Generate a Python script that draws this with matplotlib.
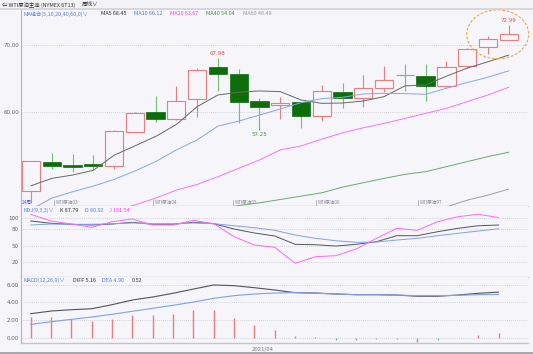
import matplotlib
matplotlib.use('Agg')
import matplotlib.pyplot as plt
from matplotlib.patches import Rectangle, Ellipse
from matplotlib.lines import Line2D
import numpy as np

nan = np.nan
CJK = ['Noto Sans CJK SC', 'DejaVu Sans']

# WTI原油主连 周线, 24 weeks
opens  = [48.2, 52.5, 52.0, 52.15, 51.9, 57.0, 60.0, 58.85, 61.95, 66.7, 65.6, 61.65,
          60.95, 61.45, 59.3, 62.9, 62.1, 63.6, 65.55, 65.4, 63.9, 66.75, 69.65, 70.7]
closes = [52.6, 51.9, 51.75, 51.85, 57.1, 59.75, 58.95, 61.6, 66.3, 65.6, 61.5, 60.7,
          61.35, 59.3, 63.1, 62.0, 63.5, 64.8, 65.45, 63.9, 66.7, 69.4, 70.8, 71.65]
highs  = [52.7, 53.9, 53.7, 53.5, 57.3, 59.9, 62.35, 63.9, 66.5, 67.98, 66.4, 62.0,
          62.25, 61.5, 64.0, 64.3, 65.5, 66.8, 67.1, 67.1, 67.55, 69.5, 71.35, 72.99]
lows   = [46.4, 51.4, 51.0, 51.4, 51.5, 56.95, 58.5, 58.7, 59.2, 63.1, 58.3, 57.25,
          58.85, 57.6, 58.65, 60.55, 60.65, 62.9, 63.1, 61.6, 63.6, 66.5, 68.6, 70.65]

ma5  = [48.95, 50.05, 50.55, 51.25, 53.5, 54.9, 56.3, 58.1, 60.75, 62.5, 62.9, 63.1,
        63.0, 61.75, 61.25, 61.3, 61.6, 62.25, 63.85, 64.0, 65.3, 66.5, 67.45, 68.45]
ma10 = [45.4, 47.1, 48.05, 48.9, 49.9, 51.15, 52.55, 54.3, 55.8, 57.85, 58.6, 59.5,
        60.4, 61.35, 61.95, 62.15, 62.65, 62.75, 62.7, 62.6, 63.5, 64.35, 65.15, 66.1]
ma20 = [nan, nan, nan, nan, 45.0, 46.1, 47.1, 48.3, 49.15, 50.3, 51.55, 52.8,
        54.3, 54.9, 55.9, 56.85, 57.6, 58.25, 59.0, 59.75, 60.5, 61.5, 62.5, 63.65]
ma40 = [nan, nan, nan, nan, nan, nan, nan, nan, nan, 45.5, 46.0, 46.4,
        46.9, 47.4, 47.9, 48.75, 49.4, 50.05, 50.65, 51.05, 51.8, 52.55, 53.3, 53.95]
ma60 = [nan] * 20 + [45.8, 46.8, 47.55, 48.45]

k_line = [95.1, 90.9, 89.1, 87.8, 89.6, 92.7, 89.1, 89.1, 92.7, 90.2, 80.5, 73.3,
          67.8, 52.7, 52.0, 49.6, 52.7, 57.5, 68.4, 68.4, 75.6, 81.8, 86.5, 87.79]
d_line = [87.8, 89.6, 89.1, 89.1, 90.2, 91.5, 90.2, 90.2, 91.5, 90.2, 86.5, 82.9,
          78.2, 69.6, 63.6, 59.3, 56.3, 56.9, 60.5, 63.6, 68.4, 72.7, 76.9, 80.92]
j_line = [107.3, 95.1, 89.6, 83.6, 93.8, 98.7, 87.8, 87.8, 96.4, 90.2, 66.5, 51.5,
          47.3, 18.2, 30.2, 32.0, 44.2, 63.6, 81.8, 78.2, 93.8, 102.9, 107.3, 101.54]

diff = [2.72, 3.02, 3.17, 3.28, 3.74, 4.27, 4.61, 5.03, 5.51, 5.97, 5.89, 5.66,
        5.40, 5.10, 5.06, 4.95, 4.87, 4.87, 4.83, 4.69, 4.69, 4.83, 5.03, 5.16]
dea  = [1.51, 1.81, 2.08, 2.34, 2.65, 2.99, 3.33, 3.67, 4.04, 4.46, 4.76, 4.95,
        5.06, 5.10, 5.03, 4.95, 4.87, 4.87, 4.83, 4.76, 4.76, 4.80, 4.87, 4.90]
hist = [2.31, 2.31, 2.12, 1.89, 2.15, 2.60, 2.57, 2.72, 3.10, 3.10, 2.27, 1.47,
        0.84, 0.16, 0.08, -0.23, -0.22, -0.20, -0.20, -0.45, -0.25, 0.02, 0.31, 0.52]

contract_labels = ['WTI原油03', 'WTI原油04', 'WTI原油05', 'WTI原油06', 'WTI原油07']
contract_pos = [1.1, 5.87, 9.72, 13.7, 18.62]

BG = '#f5f5fa'
RED = '#f07b7b'
GREEN = '#0b6e0b'
GREEN_WICK = '#72bf72'
GRID = '#c6c6ce'

n = len(closes)
x = np.arange(n)

fig = plt.figure(figsize=(5.33, 3.54), dpi=100)
fig.patch.set_facecolor(BG)


def fx(px):
    return px / 533


def fy(py):
    return 1 - py / 354


def panel(top, bottom):
    ax = fig.add_axes([fx(21), fy(bottom), fx(528) - fx(21), fy(top) - fy(bottom)])
    ax.set_facecolor(BG)
    for s in ['top', 'right']:
        ax.spines[s].set_visible(False)
    ax.spines['left'].set_color('#b4b4bc')
    ax.spines['left'].set_linewidth(0.8)
    ax.spines['bottom'].set_color('#c4c4cc')
    ax.spines['bottom'].set_linewidth(1.0)
    ax.yaxis.grid(True, linestyle=(0, (1, 1.5)), color=GRID, lw=0.6)
    ax.set_axisbelow(True)
    ax.tick_params(length=0, pad=1.5, labelsize=4.0, labelcolor='#666666')
    ax.set_xticks([])
    return ax


# header bar
fig.add_artist(Rectangle((0, fy(8.5)), 1, 1 - fy(8.5), transform=fig.transFigure,
                         facecolor='#f3f3f6', edgecolor='none'))
fig.add_artist(Line2D([0, 1], [fy(8.8), fy(8.8)], transform=fig.transFigure,
                      color='#d2d2d8', lw=1.2))
fig.text(fx(2), fy(4.6), '⇐ WTI原油主连 (NYMEX 6T13)', family=CJK, fontsize=3.9,
         color='#333333', va='center')
fig.text(fx(82), fy(4.6), '周线∨', family=CJK, fontsize=4.0, color='#333333', va='center')

# ---- main candle panel
ax = panel(10, 206)
ax.set_xlim(-0.48, 23.93)
ax.set_ylim(45.93, 75.18)
ax.set_yticks([60, 70])
ax.set_yticklabels(['60.00', '70.00'])

w = 0.88
for i in range(n):
    o, c, h, l = opens[i], closes[i], highs[i], lows[i]
    lo, hi = min(o, c), max(o, c)
    if c >= o:
        ax.vlines(i, l, lo, color=RED, lw=0.8, zorder=2)
        ax.vlines(i, hi, h, color=RED, lw=0.8, zorder=2)
        ax.add_patch(Rectangle((i - w / 2, lo), w, hi - lo, facecolor=BG,
                               edgecolor=RED, lw=0.8, zorder=3))
    else:
        ax.vlines(i, l, h, color=GREEN_WICK, lw=0.8, zorder=2)
        if hi - lo < 0.15:
            ax.hlines(o, i - w / 2, i + w / 2, color=GREEN_WICK, lw=0.8, zorder=3)
        else:
            ax.add_patch(Rectangle((i - w / 2, lo), w, hi - lo, facecolor=GREEN,
                                   edgecolor=GREEN, lw=0.5, zorder=3))

ax.plot(x, ma5, color='#686868', lw=0.7, zorder=4)
ax.plot(x, ma10, color='#86a6f0', lw=0.7, zorder=4)
ax.plot(x, ma20, color='#ff70ff', lw=0.7, zorder=4)
ax.plot(x, ma40, color='#68ac68', lw=0.7, zorder=4)
ax.plot(x, ma60, color='#a0a0a0', lw=0.7, zorder=4)

# high / low markers
ax.text(9, highs[9] + 0.3, '67.98', color='#e84848', fontsize=4.0, ha='center', va='bottom')
ax.text(23, highs[23] + 0.25, '72.99', color='#e84848', fontsize=4.0, ha='center', va='bottom')
ax.text(11, lows[11] - 0.3, '57.25', color='#3d9a3d', fontsize=4.0, ha='center', va='top')

# highlight of the last two weeks
ax.add_patch(Ellipse((22.47, 71.55), 2.98, 7.3, facecolor='none', edgecolor='#f5a53c',
                     lw=0.8, linestyle=(0, (2.5, 1.5)), clip_on=False, zorder=5))

# contract roll labels
tr = ax.get_xaxis_transform()
for lab, pos in zip(contract_labels, contract_pos):
    ax.plot([pos, pos], [0.0, 0.03], color='#9a9aa2', lw=0.5, transform=tr)
    ax.text(pos + 0.1, 0.006, lab, transform=tr, family=CJK, fontsize=3.3,
            color='#8a8a92', va='bottom', ha='left')
ax.text(0.002, 0.004, '24周', transform=ax.transAxes, family=CJK, fontsize=3.4,
        color='#4a62c8', va='bottom', ha='left')

# MA legend
leg = [(24, 'MA组合(5,10,20,40,60,0)∨', '#5b7fe0'), (101, 'MA5 68.45', '#333333'),
       (134, 'MA10 66.12', '#5b7fe0'), (170, 'MA20 63.67', '#ff40ff'),
       (206, 'MA40 54.04', '#3a953a'), (243, 'MA60 48.48', '#999999')]
for px, txt, col in leg:
    fig.text(fx(px), fy(13.8), txt, family=CJK, fontsize=3.9, color=col, va='center')

# ---- KDJ panel
axk = panel(206, 276.5)
axk.set_xlim(-0.48, 24.45)
axk.set_ylim(-5.8, 122.4)
axk.set_yticks([20, 50, 80, 100])
axk.set_yticklabels(['20', '50', '80', '100'])
axk.plot(x, k_line, color='#555555', lw=0.7)
axk.plot(x, d_line, color='#80a0f0', lw=0.7)
axk.plot(x, j_line, color='#ff66ff', lw=0.7)
for px, txt, col in [(23, 'KDJ(9,3,3)∨', '#5b7fe0'), (60, 'K 87.79', '#333333'),
                     (85, 'D 80.92', '#5b7fe0'), (109, 'J 101.54', '#ff40ff')]:
    fig.text(fx(px), fy(210), txt, family=CJK, fontsize=3.9, color=col, va='center')

# ---- MACD panel
axm = panel(276.5, 343)
axm.set_xlim(-0.48, 24.45)
axm.set_ylim(-0.6, 6.93)
axm.set_yticks([0, 2, 4, 6])
axm.set_yticklabels(['0.00', '2.00', '4.00', '6.00'])
bar_cols = [RED if h > 0 else GREEN_WICK for h in hist]
axm.vlines(x, 0, hist, colors=bar_cols, lw=1.0)
axm.plot(x, diff, color='#555555', lw=0.8)
axm.plot(x, dea, color='#80a0f0', lw=0.8)
axm.set_xticks([11.42])
axm.set_xticklabels(['2021/04'])
axm.tick_params(axis='x', pad=2.5, labelsize=3.8, labelcolor='#777777')
for px, txt, col in [(23, 'MACD(12,26,9)∨', '#5b7fe0'), (73, 'DIFF 5.16', '#333333'),
                     (102, 'DEA 4.90', '#5b7fe0'), (132, '0.52', '#333333')]:
    fig.text(fx(px), fy(280), txt, family=CJK, fontsize=3.9, color=col, va='center')

# footer line
fig.add_artist(Rectangle((0, 0), 1, fy(352.3), transform=fig.transFigure,
                         facecolor='#a8a8b0', edgecolor='none'))

fig.savefig('out.png', dpi=100, facecolor=BG)
